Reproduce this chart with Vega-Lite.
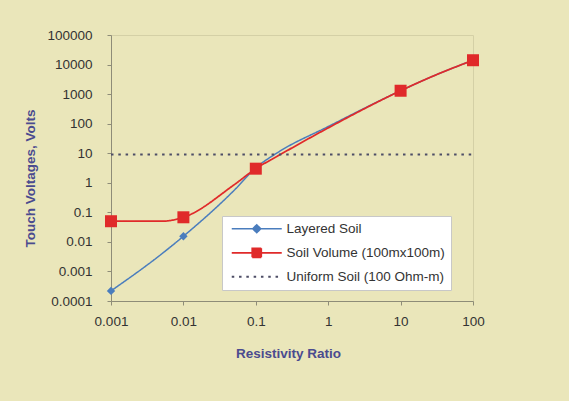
{
  "$schema": "https://vega.github.io/schema/vega-lite/v6.json",
  "width": 362,
  "height": 266,
  "autosize": "none",
  "padding": {"left": 111, "top": 35, "right": 96, "bottom": 100},
  "background": "#EAE6BA",
  "config": {
    "font": "Liberation Sans",
    "view": {"stroke": "#D4D0A6", "strokeWidth": 1}
  },
  "data": {
    "values": [
      {"series": "Layered Soil", "ratio": 0.001, "voltage": 0.00022},
      {"series": "Layered Soil", "ratio": 0.005, "voltage": 0.0039},
      {"series": "Layered Soil", "ratio": 0.01, "voltage": 0.0155},
      {"series": "Layered Soil", "ratio": 0.05, "voltage": 0.55},
      {"series": "Layered Soil", "ratio": 0.1, "voltage": 3.2},
      {"series": "Layered Soil", "ratio": 0.2, "voltage": 10.5},
      {"series": "Layered Soil", "ratio": 1, "voltage": 80},
      {"series": "Layered Soil", "ratio": 10, "voltage": 1300},
      {"series": "Layered Soil", "ratio": 25, "voltage": 3600},
      {"series": "Layered Soil", "ratio": 100, "voltage": 14000},
      {"series": "Soil Volume (100mx100m)", "ratio": 0.001, "voltage": 0.05},
      {"series": "Soil Volume (100mx100m)", "ratio": 0.005, "voltage": 0.05},
      {"series": "Soil Volume (100mx100m)", "ratio": 0.01, "voltage": 0.068},
      {"series": "Soil Volume (100mx100m)", "ratio": 0.05, "voltage": 0.85},
      {"series": "Soil Volume (100mx100m)", "ratio": 0.1, "voltage": 3.0},
      {"series": "Soil Volume (100mx100m)", "ratio": 0.2, "voltage": 8},
      {"series": "Soil Volume (100mx100m)", "ratio": 1, "voltage": 72},
      {"series": "Soil Volume (100mx100m)", "ratio": 10, "voltage": 1300},
      {"series": "Soil Volume (100mx100m)", "ratio": 25, "voltage": 3600},
      {"series": "Soil Volume (100mx100m)", "ratio": 100, "voltage": 14000},
      {"series": "Uniform Soil (100 Ohm-m)", "ratio": 0.001, "voltage": 9},
      {"series": "Uniform Soil (100 Ohm-m)", "ratio": 100, "voltage": 9}
    ]
  },
  "encoding": {
    "x": {
      "field": "ratio",
      "type": "quantitative",
      "scale": {"type": "log", "domain": [0.001, 100], "nice": false},
      "axis": {
        "values": [0.001, 0.01, 0.1, 1, 10, 100],
        "format": "~g",
        "title": "Resistivity Ratio",
        "grid": false,
        "labelFlush": false,
        "domainColor": "#8E8C78",
        "tickColor": "#8E8C78",
        "tickSize": 4,
        "labelFontSize": 13.5,
        "labelColor": "#333333",
        "labelPadding": 9,
        "titleFontSize": 13.5,
        "titleFontWeight": "bold",
        "titleColor": "#4B4B8F",
        "titleX": 177,
        "titleY": 52,
        "titleBaseline": "middle",
        "titleAlign": "center"
      }
    },
    "y": {
      "field": "voltage",
      "type": "quantitative",
      "scale": {"type": "log", "domain": [0.0001, 100000], "nice": false},
      "axis": {
        "values": [0.0001, 0.001, 0.01, 0.1, 1, 10, 100, 1000, 10000, 100000],
        "format": "~g",
        "title": "Touch Voltages, Volts",
        "grid": false,
        "domainColor": "#8E8C78",
        "tickColor": "#8E8C78",
        "tickSize": 4,
        "labelFontSize": 13.5,
        "labelColor": "#333333",
        "labelPadding": 15,
        "titleFontSize": 13.5,
        "titleFontWeight": "bold",
        "titleColor": "#4B4B8F",
        "titleX": -81,
        "titleY": 143,
        "titleAngle": 270,
        "titleAlign": "center",
        "titleBaseline": "middle"
      }
    },
    "color": {
      "field": "series",
      "type": "nominal",
      "scale": {
        "domain": ["Layered Soil", "Soil Volume (100mx100m)", "Uniform Soil (100 Ohm-m)"],
        "range": ["#4A7DBD", "#E02A2A", "#4D4D66"]
      },
      "legend": {
        "title": null,
        "orient": "none",
        "legendX": 111,
        "legendY": 181,
        "fillColor": "#FFFFFF",
        "strokeColor": "#C8C8C8",
        "padding": 6,
        "labelFontSize": 13.5,
        "labelColor": "#333333",
        "labelLimit": 0,
        "symbolSize": 100,
        "labelOffset": 45,
        "rowPadding": 8,
        "symbolStrokeWidth": 1.5,
        "encode": {
          "symbols": {
            "update": {
              "shape": {"signal": "datum.value === 'Layered Soil' ? 'M-0.6,0H9.4M4.4,-0.8L5.2,0L4.4,0.8L3.6,0Z' : (datum.value === 'Uniform Soil (100 Ohm-m)' ? 'M-0.6,0H9.4' : 'M-0.6,0H9.4M3.5,-0.9H5.3V0.9H3.5Z')"},
              "fill": {"signal": "scale('color', datum.value)"}
            }
          }
        }
      }
    }
  },
  "layer": [
    {
      "mark": {"type": "line", "interpolate": "monotone", "strokeCap": "butt"},
      "encoding": {
        "strokeDash": {
          "field": "series",
          "type": "nominal",
          "scale": {
            "domain": ["Layered Soil", "Soil Volume (100mx100m)", "Uniform Soil (100 Ohm-m)"],
            "range": [[1, 0], [1, 0], [2.5, 4.8]]
          },
          "legend": {
            "title": null,
            "orient": "none",
            "legendX": 111,
            "legendY": 181
          }
        },
        "strokeWidth": {
          "field": "series",
          "type": "nominal",
          "scale": {
            "domain": ["Layered Soil", "Soil Volume (100mx100m)", "Uniform Soil (100 Ohm-m)"],
            "range": [1.5, 2, 2.5]
          },
          "legend": null
        }
      }
    },
    {
      "transform": [
        {"filter": "datum.series !== 'Uniform Soil (100 Ohm-m)'"},
        {"filter": "indexof([0.001, 0.01, 0.1, 10, 100], datum.ratio) >= 0"}
      ],
      "mark": {"type": "point", "filled": true, "size": 144, "opacity": 1},
      "encoding": {
        "shape": {
          "field": "series",
          "type": "nominal",
          "scale": {
            "domain": ["Layered Soil", "Soil Volume (100mx100m)"],
            "range": ["M0,-0.7L0.7,0L0,0.7L-0.7,0Z", "M-1,-1H1V1H-1Z"]
          },
          "legend": null
        }
      }
    }
  ]
}
